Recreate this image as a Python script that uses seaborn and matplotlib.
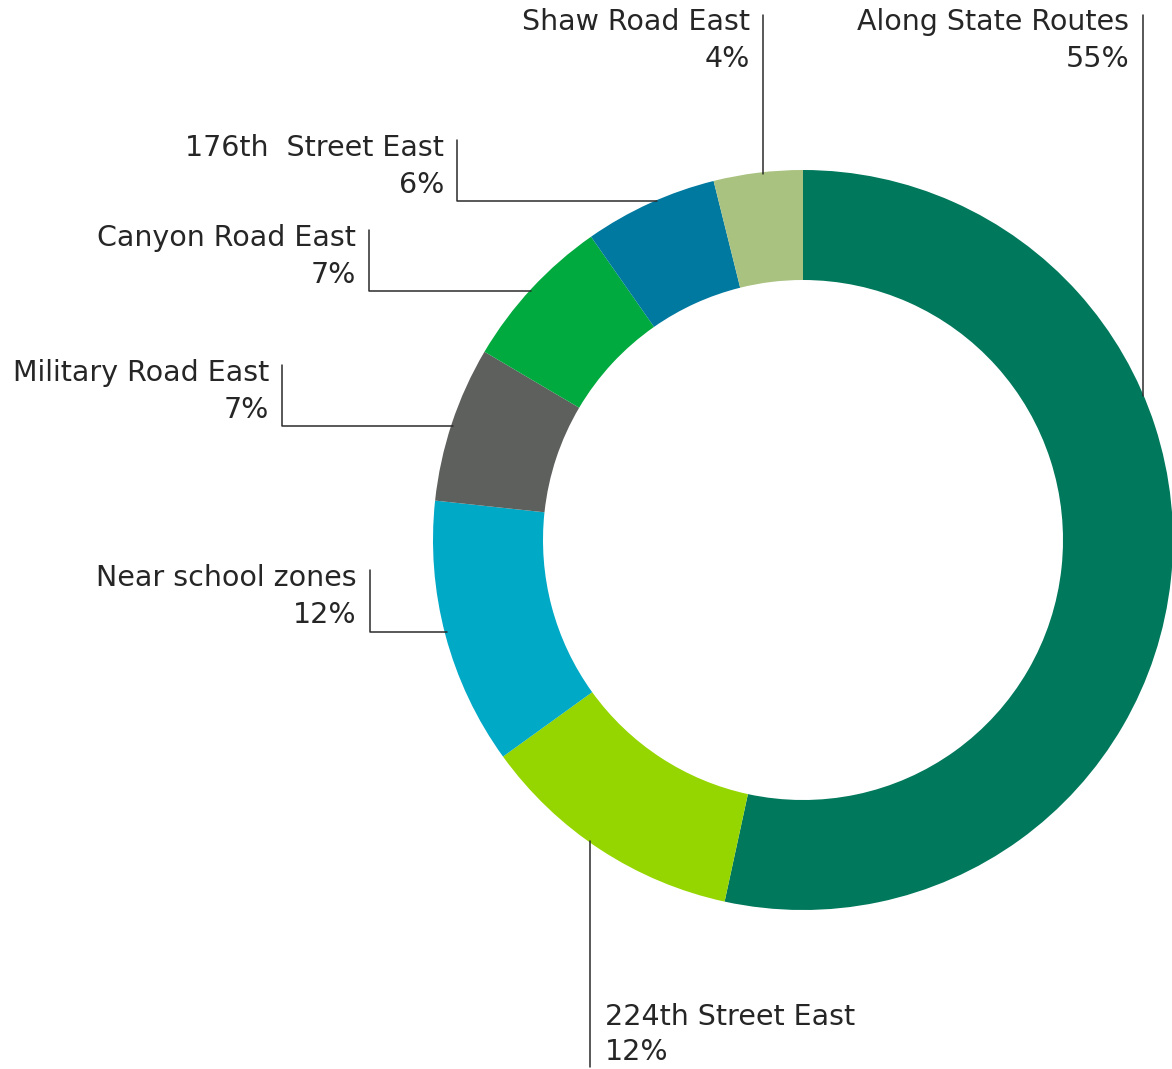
import numpy as np
import matplotlib
matplotlib.use("Agg")
import matplotlib.pyplot as plt
import seaborn as sns

# data, clockwise from 12 o'clock
categories = ["Along State Routes", "224th Street East", "Near school zones",
              "Military Road East", "Canyon Road East", "176th  Street East",
              "Shaw Road East"]
shares = [55, 12, 12, 7, 7, 6, 4]
colors = ["#00785c", "#95d600", "#00a9c6", "#5e605d", "#00aa3e", "#0079a0", "#a9c280"]

sns.set_theme(style="white")
plt.rcParams["font.family"] = ["DejaVu Sans"]

W, H = 1172, 1069
cx, cy, R, r_in = 803, 540, 370, 260

fig = plt.figure(figsize=(W / 100, H / 100), dpi=100)
ax = fig.add_axes([0, 0, 1, 1])

# with y inverted, counterclock + start -90 runs clockwise from the top
wedges, _ = ax.pie(shares, colors=colors, startangle=-90, counterclock=True,
                   center=(cx, cy), radius=R, frame=True,
                   wedgeprops=dict(width=R - r_in, linewidth=0))
ax.set_xlim(0, W)
ax.set_ylim(H, 0)  # pixel style coords, y down
ax.set_axis_off()
ax.set_aspect("equal")

txt_kw = dict(fontsize=20.5, color="#262626")
line_kw = dict(color="#2b2b2b", lw=1.1)


def edge_x(y):
    # left side of outer circle at height y
    return cx - np.sqrt(R ** 2 - (y - cy) ** 2)


def edge_y_top(x):
    return cy - np.sqrt(R ** 2 - (x - cx) ** 2)


# labels on the left: vertical bar x, top of text, elbow y
left_labels = {
    "176th  Street East": (457, 140, 201),
    "Canyon Road East": (369, 230, 291),
    "Military Road East": (282, 365, 426),
    "Near school zones": (370, 570, 632),
}
for i, name in enumerate(categories):
    pct = f"{shares[i]}%"
    if name in left_labels:
        vx, ty, ey = left_labels[name]
        ax.text(vx - 13, ty + 8, name, ha="right", va="center", **txt_kw)
        ax.text(vx - 13, ty + 45, pct, ha="right", va="center", **txt_kw)
        ax.plot([vx, vx, edge_x(ey) + 2], [ty, ey, ey], **line_kw)
    elif name == "Along State Routes":
        vx = 1143
        ax.text(vx - 14, 22, name, ha="right", va="center", **txt_kw)
        ax.text(vx - 14, 59, pct, ha="right", va="center", **txt_kw)
        ax.plot([vx, vx], [15, edge_y_top(vx) + 2], **line_kw)
    elif name == "Shaw Road East":
        vx = 763
        ax.text(vx - 13, 22, name, ha="right", va="center", **txt_kw)
        ax.text(vx - 13, 59, pct, ha="right", va="center", **txt_kw)
        ax.plot([vx, vx], [15, edge_y_top(vx) + 2], **line_kw)
    elif name == "224th Street East":
        vx = 590
        ax.text(vx + 15, 1017, name, ha="left", va="center", **txt_kw)
        ax.text(vx + 15, 1052, pct, ha="left", va="center", **txt_kw)
        ybot = cy + np.sqrt(R ** 2 - (vx - cx) ** 2)
        ax.plot([vx, vx], [ybot - 2, 1067], **line_kw)

fig.savefig("out.png", dpi=100, facecolor="white")
